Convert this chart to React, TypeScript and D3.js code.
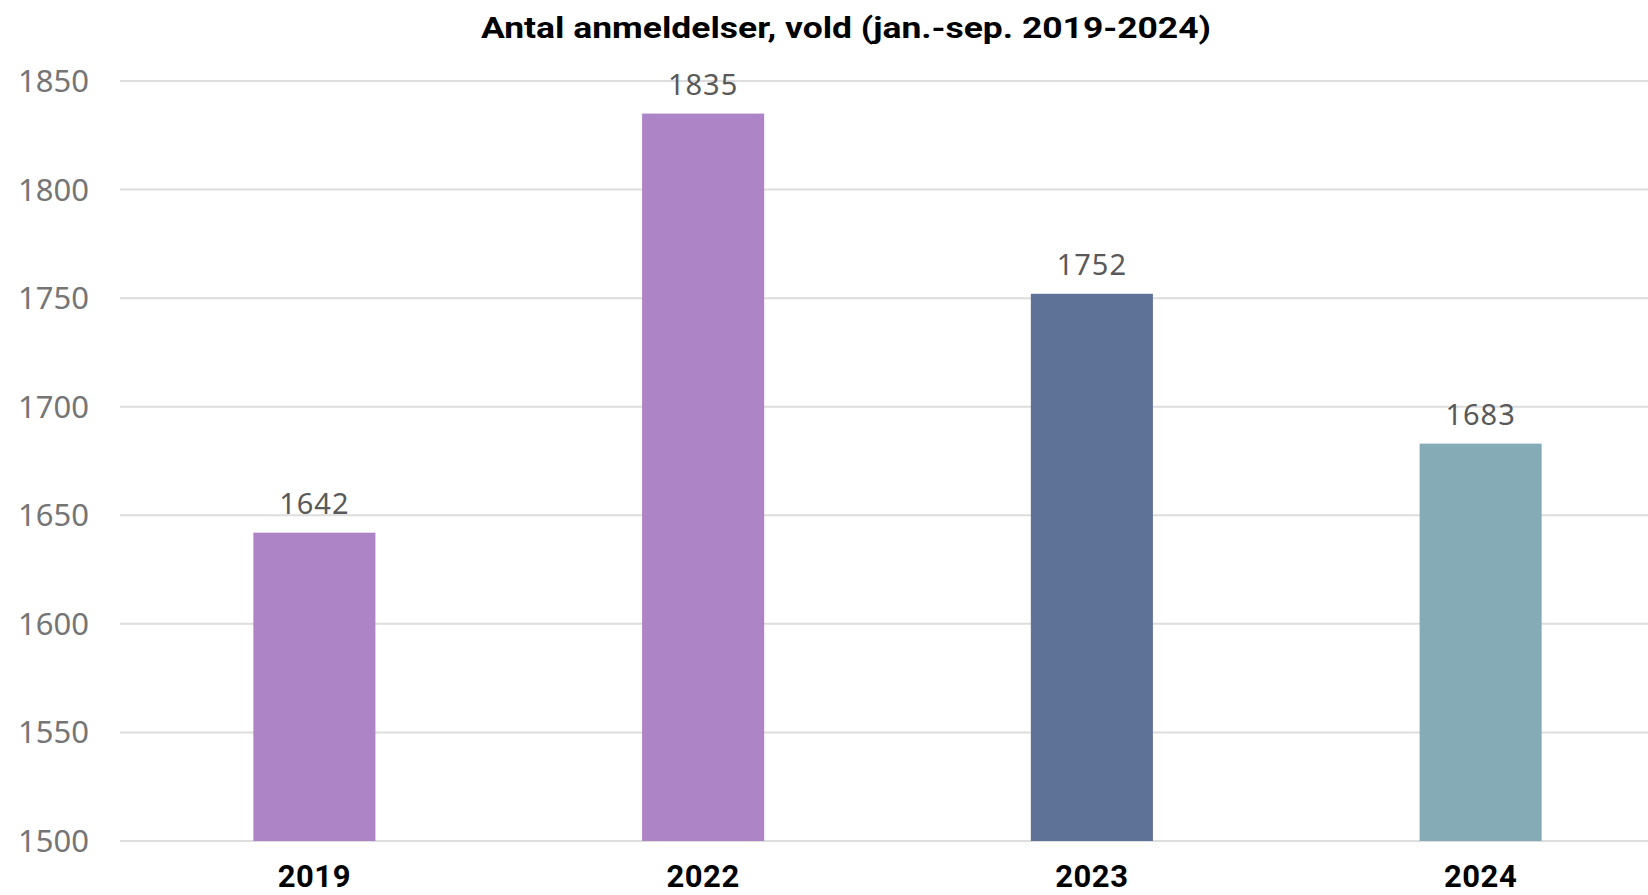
import React from "react";
import * as d3 from "d3";

const years = ["2019", "2022", "2023", "2024"];
const values = [1642, 1835, 1752, 1683];
const barColors = ["#AD85C6", "#AD85C6", "#5E7196", "#85ACB6"];
const yTicks = [1500, 1550, 1600, 1650, 1700, 1750, 1800, 1850];
const title = "Antal anmeldelser, vold (jan.-sep. 2019-2024)";

const W = 1648;
const H = 895;

export default function App() {
  const x = d3
    .scaleBand<string>()
    .domain(years)
    .range([120, 1675])
    .paddingInner(0.686)
    .paddingOuter(0.343);
  const y = d3.scaleLinear().domain([1500, 1850]).range([841, 81]);

  return (
    <svg
      width={W}
      height={H}
      style={{ position: "absolute", left: 0, top: 0, background: "#fff" }}
    >
      <text
        x={846}
        y={38}
        textAnchor="middle"
        fontFamily="Roboto, sans-serif"
        fontWeight={700}
        fontSize={30}
        fill="#000"
        textLength={730}
        lengthAdjust="spacingAndGlyphs"
      >
        {title}
      </text>
      {yTicks.map((t) => (
        <g key={t}>
          <line x1={120} x2={W} y1={y(t)} y2={y(t)} stroke="#DDDDDD" strokeWidth={2} />
          <text
            x={89}
            y={y(t) + 11}
            textAnchor="end"
            fontFamily="'Noto Sans', sans-serif"
            fontSize={31}
            fill="#757575"
          >
            {t}
          </text>
        </g>
      ))}
      {years.map((yr, i) => {
        const bx = x(yr)!;
        const bw = x.bandwidth();
        const cx = bx + bw / 2;
        return (
          <g key={yr}>
            <rect x={bx} y={y(values[i])} width={bw} height={y(1500) - y(values[i])} fill={barColors[i]} />
            <text
              x={cx}
              y={y(values[i]) - 19}
              textAnchor="middle"
              fontFamily="'Noto Sans', sans-serif"
              fontSize={29}
              letterSpacing={1}
              fill="#595959"
            >
              {values[i]}
            </text>
            <text
              x={cx}
              y={887}
              textAnchor="middle"
              fontFamily="Roboto, sans-serif"
              fontWeight={700}
              fontSize={31}
              letterSpacing={0.5}
              fill="#000"
            >
              {yr}
            </text>
          </g>
        );
      })}
    </svg>
  );
}
